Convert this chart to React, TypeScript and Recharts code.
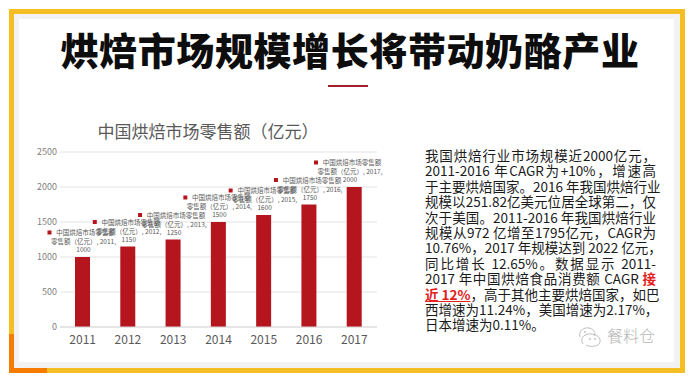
import React from 'react';
import { BarChart, Bar, XAxis, YAxis, CartesianGrid, LabelList } from 'recharts';

const years = ['2011', '2012', '2013', '2014', '2015', '2016', '2017'];
const sales = [1000, 1150, 1250, 1500, 1600, 1750, 2000];
const yTicks = [0, 500, 1000, 1500, 2000, 2500];
const seriesName = '中国烘焙市场零售额';
const seriesUnit = '零售额（亿元）';

const bodyLines = [
  '我国烘焙行业市场规模近2000亿元，',
  '2011-2016 年CAGR为+10%，增速高',
  '于主要烘焙国家。2016 年我国烘焙行业',
  '规模以251.82亿美元位居全球第二，仅',
  '次于美国。2011-2016 年我国烘焙行业',
  '规模从972 亿增至1795亿元，CAGR为',
  '10.76%，2017 年规模达到 2022 亿元，',
  '同比增长 12.65%。数据显示 2011-',
];

const data = years.map((year, i) => ({ year, sales: sales[i] }));

const RED = '#b5161e';
const FONT = "'Noto Sans CJK SC', 'Noto Sans', sans-serif";

const BarLabel = (props: any) => {
  const { x, y, width, value, index } = props;
  const cx = Math.min(x + width / 2 + 1, 350);
  const year = years[index];
  return (
    <g fontSize={6.5} fill="#595959">
      <rect x={cx - 36} y={y - 26.5} width={4} height={4} fill={RED} />
      <text x={cx + 2} y={y - 22} textAnchor="middle">{seriesName}</text>
      <text x={cx} y={y - 13} textAnchor="middle">{`${seriesUnit}, ${year},`}</text>
      <text x={cx} y={y - 5} textAnchor="middle">{value}</text>
    </g>
  );
};

const App = () => {
  return (
    <div style={{ position: 'absolute', left: 0, top: 0, width: 695, height: 387, background: '#fff', fontFamily: FONT, overflow: 'hidden' }}>
      {/* frame */}
      <div style={{ position: 'absolute', left: 9, top: 9, width: 676, height: 364, background: '#f5be22' }} />
      <div style={{ position: 'absolute', left: 9, top: 334, width: 5, height: 39, background: '#f57c00' }} />
      <div style={{ position: 'absolute', left: 9, top: 368, width: 38, height: 5, background: '#f57c00' }} />
      <div style={{ position: 'absolute', left: 14, top: 14, width: 666, height: 354, background: '#f2f2f2' }} />
      <div style={{ position: 'absolute', left: 19, top: 19, width: 655, height: 343, background: '#ffffff' }} />

      {/* title */}
      <div style={{ position: 'absolute', left: 0, top: 29, width: 700, textAlign: 'center', fontSize: 38, lineHeight: '40px', fontWeight: 900, color: '#0d0d0d', letterSpacing: 0.6 }}>
        烘焙市场规模增长将带动奶酪产业
      </div>
      <div style={{ position: 'absolute', left: 328, top: 85, width: 40, height: 2, background: '#a3202a' }} />

      {/* chart title */}
      <div style={{ position: 'absolute', left: 60, top: 120, width: 296, textAlign: 'center', fontSize: 17, lineHeight: '22px', color: '#595959' }}>
        中国烘焙市场零售额（亿元）
      </div>

      <div style={{ position: 'absolute', left: 0, top: 0 }}>
        <BarChart width={695} height={387} data={data} margin={{ top: 152, right: 318, bottom: 30, left: 30 }}>
          <CartesianGrid vertical={false} stroke="#e3e3e3" />
          <XAxis
            dataKey="year"
            height={30}
            tickLine={false}
            axisLine={{ stroke: '#d9d9d9' }}
            tick={{ fontSize: 12, fill: '#595959' }}
          />
          <YAxis
            width={30}
            domain={[0, 2500]}
            ticks={yTicks}
            tickLine={false}
            axisLine={false}
            tickSize={0}
            tickMargin={3}
            tick={{ fontSize: 9, fill: '#7f7f7f' }}
          />
          <Bar dataKey="sales" fill={RED} barSize={15} isAnimationActive={false}>
            <LabelList dataKey="sales" content={BarLabel} />
          </Bar>
        </BarChart>
      </div>

      {/* body text */}
      <div style={{ position: 'absolute', left: 425, top: 148, width: 231, fontSize: 13.5, lineHeight: '15.4px', color: '#1a1a1a' }}>
        {bodyLines.map((line, i) => (
          <div key={i} style={{ textAlignLast: 'justify', whiteSpace: 'nowrap' }}>{line}</div>
        ))}
        <div style={{ textAlignLast: 'justify', whiteSpace: 'nowrap' }}>
          2017 年中国烘焙食品消费额 CAGR <span style={{ color: '#e3201b', fontWeight: 700 }}>接</span>
        </div>
        <div style={{ textAlignLast: 'justify', whiteSpace: 'nowrap' }}>
          <span style={{ color: '#e3201b', fontWeight: 700, textDecoration: 'underline', textDecorationColor: '#e3201b' }}>近 12%</span>，高于其他主要烘焙国家，如巴
        </div>
        <div style={{ textAlignLast: 'justify', whiteSpace: 'nowrap' }}>西增速为11.24%，美国增速为2.17%，</div>
        <div style={{ whiteSpace: 'nowrap' }}>日本增速为0.11%。</div>
      </div>

      {/* watermark */}
      <svg style={{ position: 'absolute', left: 576, top: 324 }} width={30} height={24}>
        <path d="M4 13 C2 7 8 3 13 4 C18 5 20 9 18 12" fill="none" stroke="#bdbdbd" strokeWidth={1} />
        <path d="M7 20 C3 14 9 9 16 10 C23 11 26 16 23 20 C20 23 13 23 10 21" fill="none" stroke="#bdbdbd" strokeWidth={1} />
        <circle cx={14} cy={15} r={0.9} fill="#bdbdbd" />
        <circle cx={19} cy={15} r={0.9} fill="#bdbdbd" />
        <circle cx={9} cy={8} r={0.9} fill="#bdbdbd" />
      </svg>
      <div style={{ position: 'absolute', left: 607, top: 325, fontSize: 16, lineHeight: '20px', color: '#b5b5b5', fontWeight: 300 }}>餐料仓</div>
    </div>
  );
};

export default App;
